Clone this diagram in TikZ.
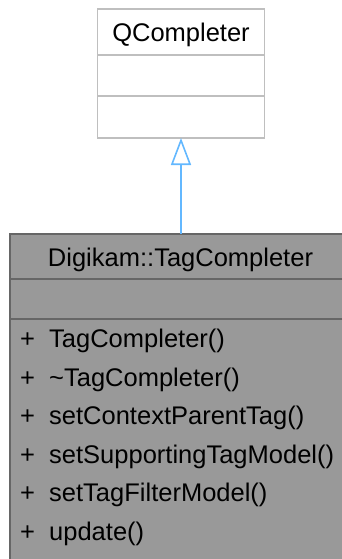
\documentclass[tikz,border=0pt]{standalone}
\usepackage{fontspec}
\setmainfont{Liberation Sans}
\usetikzlibrary{arrows.meta}
\definecolor{baseborder}{HTML}{BFBFBF}
\definecolor{clsfill}{HTML}{999999}
\definecolor{clsborder}{HTML}{666666}
\definecolor{inheritblue}{HTML}{63B8FF}
\tikzset{
  umltext/.style={inner sep=0pt, font=\fontsize{25.5}{30}\selectfont, text=black},
  basebox/.style={draw=baseborder, fill=white, line width=1.3pt, inner sep=0pt, outer sep=0pt},
  clsbox/.style={draw=clsborder, fill=clsfill, line width=1.3pt, inner sep=0pt, outer sep=0pt},
  inh/.style={draw=inheritblue, line width=1.6pt, -{Triangle[open, length=27pt, width=20pt, fill=white]}}
}
\begin{document}
\begin{tikzpicture}[x=1pt, y=-1pt]
\useasboundingbox (0,0) rectangle (342,559);
\clip (0,0) rectangle (342,559);
% base class QCompleter
\node[basebox, minimum width=166.6pt, minimum height=129pt, anchor=north west] (qc) at (97.7,9) {};
\draw[baseborder, line width=1.3pt] (qc.west |- 0,55) -- (qc.east |- 0,55);
\draw[baseborder, line width=1.3pt] (qc.west |- 0,96) -- (qc.east |- 0,96);
\node[umltext, anchor=base] (qctitle) at (181,42) {QCompleter};
% derived class
\node[clsbox, minimum width=341pt, minimum height=360pt, anchor=north west] (tc) at (10,234) {};
\draw[clsborder, line width=1.3pt] (tc.west |- 0,279) -- (tc.east |- 0,279);
\draw[clsborder, line width=1.3pt] (tc.west |- 0,319) -- (tc.east |- 0,319);
\node[umltext, anchor=base] (tctitle) at (180.5,266) {Digikam::TagCompleter};
\foreach \y/\t [count=\i] in {347/{TagCompleter()}, 386/{\char"7E TagCompleter()}, 424.5/{setContextParentTag()}, 463/{setSupportingTagModel()}, 501.5/{setTagFilterModel()}, 540/{update()}} {
  \node[umltext, anchor=base west] (plus\i) at (20,\y) {+};
  \node[umltext, anchor=base west] (m\i) at (49,\y) {\t};
}
% inheritance
\draw[inh] (tc.north -| qc.south) -- (qc.south);
\end{tikzpicture}
\end{document}
